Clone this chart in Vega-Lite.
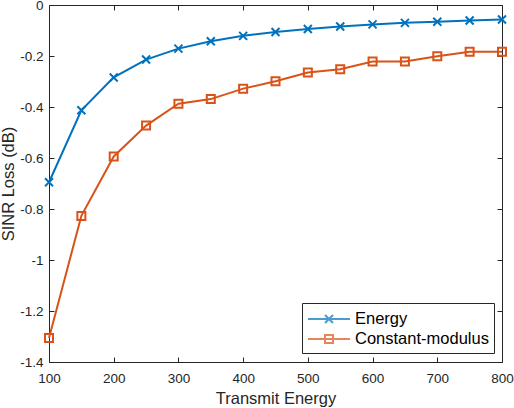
{
  "$schema": "https://vega.github.io/schema/vega-lite/v6.json",
  "width": 453,
  "height": 357,
  "autosize": {"type": "none"},
  "padding": {"left": 49, "top": 5, "right": 12, "bottom": 46},
  "background": "white",
  "config": {
    "font": "Liberation Sans",
    "view": {"stroke": null},
    "axis": {
      "grid": false,
      "domainColor": "#262626",
      "tickColor": "#262626",
      "labelColor": "#262626",
      "titleColor": "#262626",
      "labelFont": "Liberation Sans",
      "titleFont": "Liberation Sans",
      "labelFontSize": 13.5,
      "titleFontSize": 16.5,
      "titleFontWeight": "normal",
      "tickSize": -5,
      "domainWidth": 1,
      "tickWidth": 1
    }
  },
  "data": {
    "values": [
      {"x": 100, "series": "Energy", "y": -0.695},
      {"x": 150, "series": "Energy", "y": -0.413},
      {"x": 200, "series": "Energy", "y": -0.284},
      {"x": 250, "series": "Energy", "y": -0.214},
      {"x": 300, "series": "Energy", "y": -0.171},
      {"x": 350, "series": "Energy", "y": -0.142},
      {"x": 400, "series": "Energy", "y": -0.121},
      {"x": 450, "series": "Energy", "y": -0.106},
      {"x": 500, "series": "Energy", "y": -0.094},
      {"x": 550, "series": "Energy", "y": -0.084},
      {"x": 600, "series": "Energy", "y": -0.076},
      {"x": 650, "series": "Energy", "y": -0.070},
      {"x": 700, "series": "Energy", "y": -0.066},
      {"x": 750, "series": "Energy", "y": -0.061},
      {"x": 800, "series": "Energy", "y": -0.057},
      {"x": 100, "series": "Constant-modulus", "y": -1.306},
      {"x": 150, "series": "Constant-modulus", "y": -0.827},
      {"x": 200, "series": "Constant-modulus", "y": -0.594},
      {"x": 250, "series": "Constant-modulus", "y": -0.473},
      {"x": 300, "series": "Constant-modulus", "y": -0.387},
      {"x": 350, "series": "Constant-modulus", "y": -0.369},
      {"x": 400, "series": "Constant-modulus", "y": -0.328},
      {"x": 450, "series": "Constant-modulus", "y": -0.299},
      {"x": 500, "series": "Constant-modulus", "y": -0.265},
      {"x": 550, "series": "Constant-modulus", "y": -0.252},
      {"x": 600, "series": "Constant-modulus", "y": -0.222},
      {"x": 650, "series": "Constant-modulus", "y": -0.222},
      {"x": 700, "series": "Constant-modulus", "y": -0.201},
      {"x": 750, "series": "Constant-modulus", "y": -0.183},
      {"x": 800, "series": "Constant-modulus", "y": -0.183}
    ]
  },
  "layer": [
    {
      "mark": {"type": "line", "strokeWidth": 2},
      "encoding": {
        "x": {
          "field": "x", "type": "quantitative",
          "scale": {"domain": [100, 800], "nice": false, "zero": false},
          "axis": {"orient": "bottom", "values": [100, 200, 300, 400, 500, 600, 700, 800], "title": "Transmit Energy", "labelPadding": 14, "titlePadding": 6, "labelFlush": false}
        },
        "y": {
          "field": "y", "type": "quantitative",
          "scale": {"domain": [-1.4, 0], "nice": false, "zero": false},
          "axis": {"orient": "left", "values": [-1.4, -1.2, -1, -0.8, -0.6, -0.4, -0.2, 0], "title": "SINR Loss (dB)", "labelPadding": 11, "titlePadding": 3, "labelFlush": false,
            "labelExpr": "replace(format(datum.value, '.1~f'), '\u2212', '-')"}
        },
        "color": {
          "field": "series", "type": "nominal",
          "scale": {"domain": ["Energy", "Constant-modulus"], "range": ["#0072BD", "#D95319"]},
          "legend": {
            "title": null,
            "orient": "none",
            "legendX": 253,
            "legendY": 298,
            "padding": 5,
            "strokeColor": "#262626",
            "fillColor": "white",
            "labelFont": "Liberation Sans",
            "labelFontSize": 16.5,
            "labelColor": "#000000",
            "symbolSize": 400,
            "symbolOpacity": 1,
            "symbolOffset": 11,
            "labelOffset": 15,
            "rowPadding": 0,
            "symbolStrokeWidth": 2,
            "symbolFillColor": "transparent"
          }
        }
      }
    },
    {
      "mark": {"type": "point", "filled": false, "strokeWidth": 2, "size": 0},
      "encoding": {
        "x": {"field": "x", "type": "quantitative", "axis": null},
        "y": {"field": "y", "type": "quantitative", "axis": null},
        "color": {"field": "series", "type": "nominal"},
        "shape": {
          "field": "series", "type": "nominal",
          "scale": {"domain": ["Energy", "Constant-modulus"], "range": ["M-2.1,0L2.1,0M-0.4,-0.4L0.4,0.4M-0.4,0.4L0.4,-0.4", "M-2.1,0L2.1,0M-0.4,-0.4L0.4,-0.4L0.4,0.4L-0.4,0.4Z"]}
        }
      }
    },
    {
      "transform": [{"filter": "datum.series == 'Energy'"}],
      "mark": {"type": "point", "filled": false, "strokeWidth": 2, "opacity": 1, "size": 64, "shape": "M-1,-1L1,1M-1,1L1,-1"},
      "encoding": {
        "x": {"field": "x", "type": "quantitative", "axis": null},
        "y": {"field": "y", "type": "quantitative", "axis": null},
        "color": {"field": "series", "type": "nominal"}
      }
    },
    {
      "transform": [{"filter": "datum.series == 'Constant-modulus'"}],
      "mark": {"type": "point", "filled": false, "strokeWidth": 2, "opacity": 1, "size": 64, "shape": "square"},
      "encoding": {
        "x": {
          "field": "x", "type": "quantitative",
          "axis": {"orient": "top", "values": [100, 200, 300, 400, 500, 600, 700, 800], "labels": false, "title": null}
        },
        "y": {
          "field": "y", "type": "quantitative",
          "axis": {"orient": "right", "values": [-1.4, -1.2, -1, -0.8, -0.6, -0.4, -0.2, 0], "labels": false, "title": null}
        },
        "color": {"field": "series", "type": "nominal"}
      }
    }
  ],
  "resolve": {"axis": {"x": "independent", "y": "independent"}}
}
